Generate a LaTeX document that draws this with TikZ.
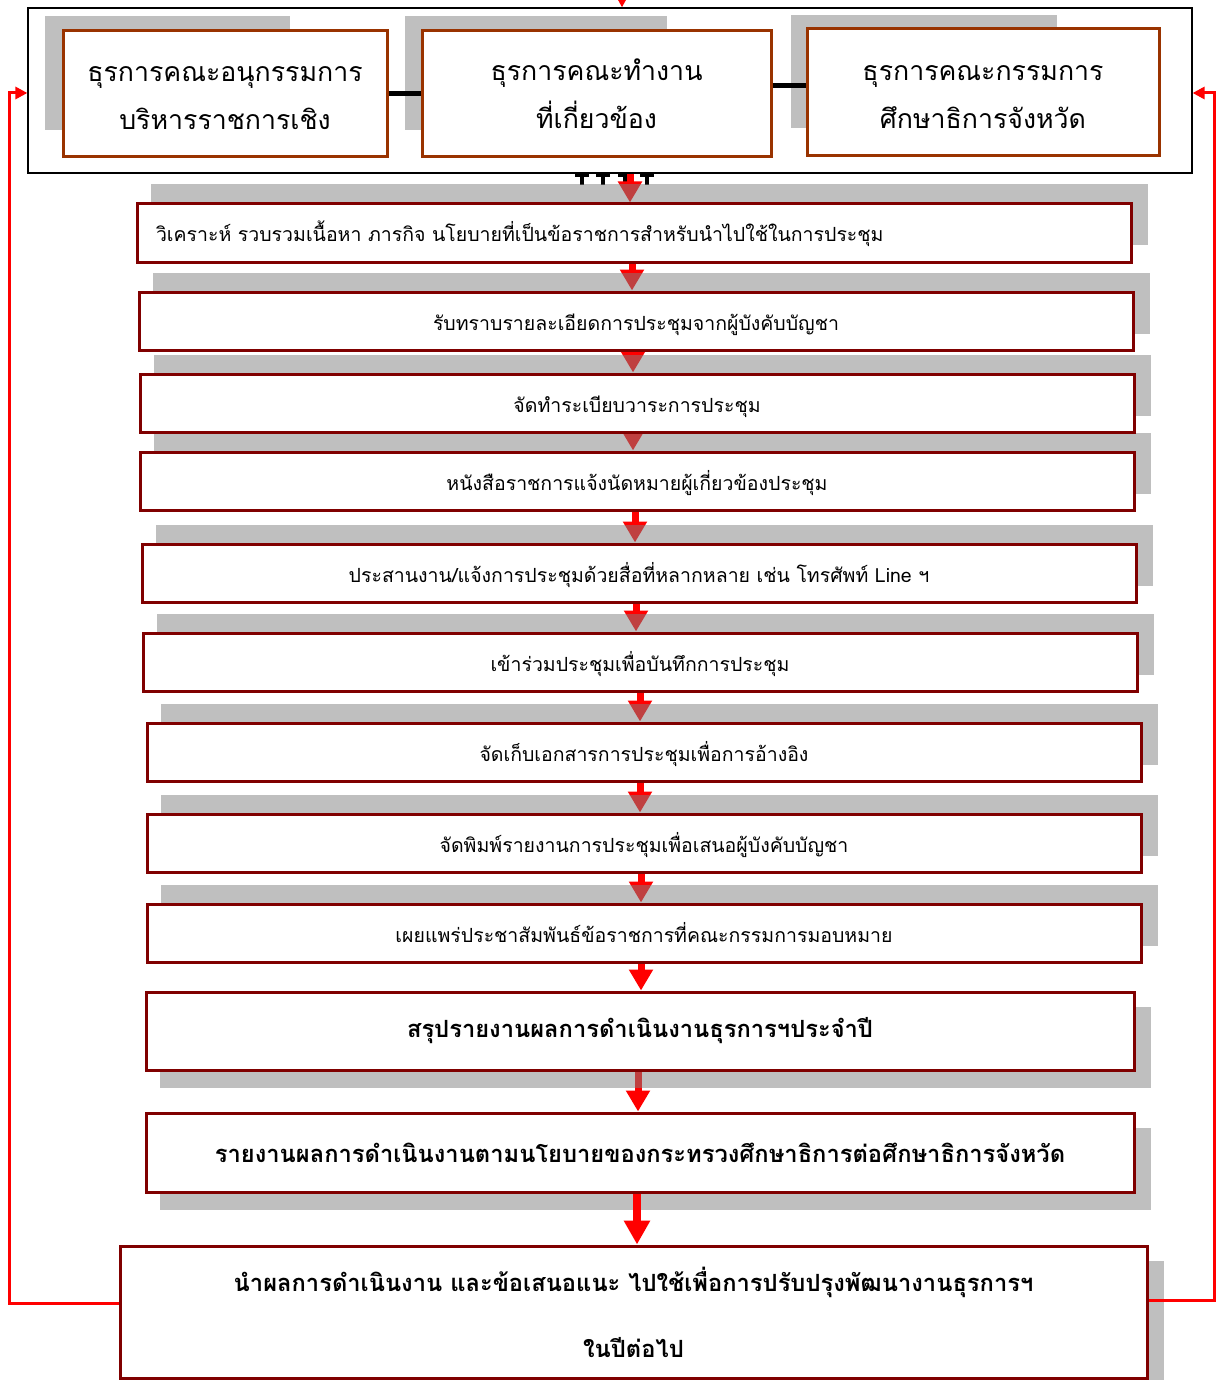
\documentclass[tikz,border=0pt]{standalone}
\usepackage{fontspec}
\setmainfont[Script=Thai]{Loma}
\usetikzlibrary{arrows.meta}
\pgfdeclarelayer{bgl}
\pgfdeclarelayer{arrl}
\pgfdeclarelayer{shad}
\pgfsetlayers{bgl,arrl,shad,main}
\definecolor{boxred}{RGB}{128,0,0}
\definecolor{boxbrown}{RGB}{153,51,0}
\definecolor{arrred}{RGB}{255,0,0}
\definecolor{shadgray}{RGB}{191,191,191}
\definecolor{shadmid}{RGB}{128,128,128}
\begin{document}
\begin{tikzpicture}[x=1pt,y=-1pt,
  topbox/.style={draw=boxbrown, line width=3pt, fill=white, inner sep=0pt},
  toptext/.style={align=center, inner sep=0pt, yshift=-4.5pt, font=\fontsize{26.7}{48}\selectfont},
  flowbox/.style={draw=boxred, line width=3pt, fill=white, inner sep=0pt,
    text height=22pt, text depth=4pt, font=\fontsize{19.5}{24}\selectfont},
  boldbox/.style={draw=boxred, line width=3pt, fill=white, inner sep=0pt, align=center,
    font=\fontsize{23.7}{66}\selectfont\bfseries},
  shadowfill/.style={fill=shadmid, fill opacity=0.5},
  topshadow/.style={fill=shadgray},
  flowarrow/.style={draw=arrred, line width=7pt, -{Triangle[width=23pt,length=21pt]}},
  bigarrow/.style={draw=arrred, line width=8pt, -{Triangle[width=25pt,length=24pt]}},
  looparrow/.style={draw=arrred, line width=3pt, -{Triangle[width=12pt,length=12pt]}},
  joinline/.style={draw=black, line width=5pt},
  tmark/.style={draw=black, line width=3.5pt}
]
\useasboundingbox (0,0) rectangle (1216,1380);
\begin{pgfonlayer}{bgl}
\fill[white] (0,0) rectangle (1216,1380);
\end{pgfonlayer}

% container and top boxes
\node[draw=black, line width=1.2pt, minimum width=1164pt, minimum height=165pt, inner sep=0pt] (cont) at (610,90.5) {};
\node[topbox, minimum width=324pt, minimum height=126pt,
  label={[toptext]center:ธุรการคณะอนุกรรมการ\\บริหารราชการเชิง}] (t1) at (225,94) {};
\node[topbox, minimum width=349pt, minimum height=126pt,
  label={[toptext, yshift=5pt]center:ธุรการคณะทำงาน\\ที่เกี่ยวข้อง}] (t2) at (596.5,94) {};
\node[topbox, minimum width=352pt, minimum height=127pt,
  label={[toptext]center:ธุรการคณะกรรมการ\\ศึกษาธิการจังหวัด}] (t3) at (983,92.5) {};
\draw[joinline] (t1.east) -- (t2.west |- t1.east);
\draw[joinline] (t2.east |- 0,86) -- (t3.west |- 0,86);

% flow boxes
\node[flowbox, minimum width=994pt, minimum height=58pt, text width=956pt, align=left, inner xsep=19pt] (f1) at (634,233) {วิเคราะห์ รวบรวมเนื้อหา ภารกิจ นโยบายที่เป็นข้อราชการสำหรับนำไปใช้ในการประชุม};
\node[flowbox, minimum width=994pt, minimum height=58pt] (f2) at (636,321) {รับทราบรายละเอียดการประชุมจากผู้บังคับบัญชา};
\node[flowbox, minimum width=994pt, minimum height=58pt] (f3) at (637,403) {จัดทำระเบียบวาระการประชุม};
\node[flowbox, minimum width=994pt, minimum height=58pt] (f4) at (637,481) {หนังสือราชการแจ้งนัดหมายผู้เกี่ยวข้องประชุม};
\node[flowbox, minimum width=994pt, minimum height=58pt] (f5) at (639,573) {ประสานงาน/แจ้งการประชุมด้วยสื่อที่หลากหลาย เช่น โทรศัพท์ Line ฯ};
\node[flowbox, minimum width=994pt, minimum height=58pt] (f6) at (640,662) {เข้าร่วมประชุมเพื่อบันทึกการประชุม};
\node[flowbox, minimum width=994pt, minimum height=58pt] (f7) at (644,752) {จัดเก็บเอกสารการประชุมเพื่อการอ้างอิง};
\node[flowbox, minimum width=994pt, minimum height=58pt] (f8) at (644,843) {จัดพิมพ์รายงานการประชุมเพื่อเสนอผู้บังคับบัญชา};
\node[flowbox, minimum width=994pt, minimum height=58pt] (f9) at (644,933) {เผยแพร่ประชาสัมพันธ์ข้อราชการที่คณะกรรมการมอบหมาย};
\node[boldbox, minimum width=988pt, minimum height=78pt] (f10) at (640,1031) {สรุปรายงานผลการดำเนินงานธุรการฯประจำปี};
\node[boldbox, minimum width=988pt, minimum height=79pt] (f11) at (640,1152.5) {รายงานผลการดำเนินงานตามนโยบายของกระทรวงศึกษาธิการต่อศึกษาธิการจังหวัด};
\node[boldbox, minimum width=1027pt, minimum height=132pt] (f12) at (633.5,1312) {นำผลการดำเนินงาน และข้อเสนอแนะ ไปใช้เพื่อการปรับปรุงพัฒนางานธุรการฯ\\ในปีต่อไป};

% shadows
\begin{pgfonlayer}{shad}
\fill[topshadow] (45,16) rectangle (290,130);
\fill[topshadow] (405,16) rectangle (667,130);
\fill[topshadow] (791,15) rectangle (1057,128);
\foreach \b in {f1,f2,f3,f4,f5,f6,f7,f8,f9}{
  \fill[shadowfill] ([shift={(15,-18)}]\b.south west) rectangle ([shift={(15,-18)}]\b.north east);
}
\foreach \b in {f10,f11,f12}{
  \fill[shadowfill] ([shift={(15,16)}]\b.south west) rectangle ([shift={(15,16)}]\b.north east);
}
\end{pgfonlayer}

% arrows
\begin{pgfonlayer}{arrl}
\foreach \tx in {582,603,625,647}{
  \draw[tmark] (\tx-7,175) -- (\tx+7,175);
  \draw[tmark] (\tx,175) -- (\tx,185);
}
\draw[flowarrow] (cont.south -| 630,0) -- (f1.north -| 630,0);
\draw[flowarrow] (f1.south -| 632,0) -- (f2.north -| 632,0);
\draw[flowarrow] (f2.south -| 633,0) -- (f3.north -| 633,0);
\draw[flowarrow] (f3.south -| 633,0) -- (f4.north -| 633,0);
\draw[flowarrow] (f4.south -| 635,0) -- (f5.north -| 635,0);
\draw[flowarrow] (f5.south -| 636,0) -- (f6.north -| 636,0);
\draw[flowarrow] (f6.south -| 640,0) -- (f7.north -| 640,0);
\draw[flowarrow] (f7.south -| 640,0) -- (f8.north -| 640,0);
\draw[flowarrow] (f8.south -| 641,0) -- (f9.north -| 641,0);
\draw[flowarrow] (f9.south -| 641,0) -- (f10.north -| 641,0);
\draw[flowarrow] (f10.south -| 638,0) -- (f11.north -| 638,0);
\end{pgfonlayer}
\draw[bigarrow] (f11.south -| 637,0) -- (f12.north -| 637,0);

% feedback loops
\coordinate (topsrc) at (622,-12);
\draw[looparrow] (topsrc) -- (cont.north -| 622,0);
\draw[looparrow] (f12.west |- 0,1303) -- (9,1303) -- (9,93) -- (cont.west |- 0,93);
\draw[looparrow] (f12.east |- 0,1300) -- (1214,1300) -- (1214,93) -- (cont.east |- 0,93);
\end{tikzpicture}
\end{document}
